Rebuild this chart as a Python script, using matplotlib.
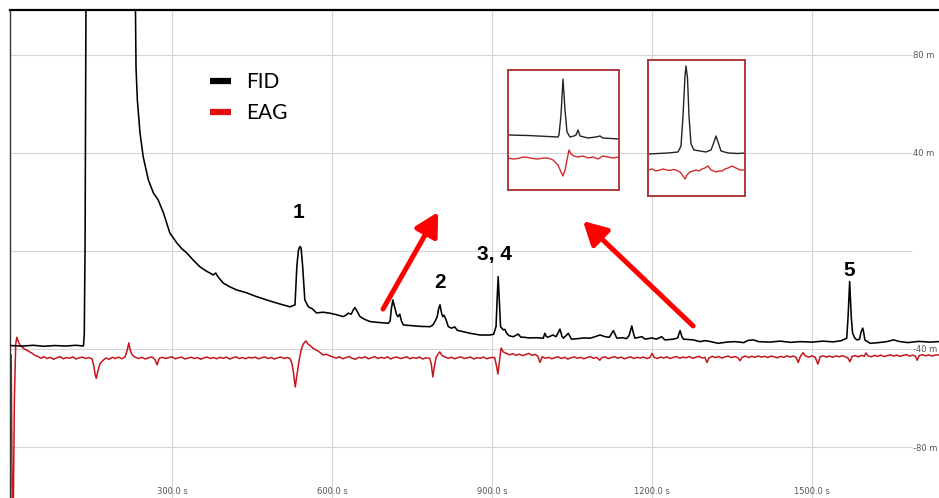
import matplotlib
matplotlib.use("Agg")
import matplotlib.pyplot as plt
from matplotlib.lines import Line2D

# ---------------- data (time in s, signal in mV) ----------------
fid_t = [-3.7, 20, 40, 60, 80, 100, 120, 134, 135.5, 137, 139, 230.6, 232.5, 235, 240, 246,
         255.6, 265, 274, 284, 296, 309, 318, 327.5, 340, 352.5, 365, 377.5, 382, 386, 396,
         408, 421, 440, 458, 477.5, 500, 521, 530.6, 534, 537, 540, 542, 545, 549, 555.6,
         563, 571, 583, 596, 608, 621, 626, 630.6, 636, 640, 643, 647.5, 652.5, 661, 671,
         688, 705.6, 709, 711, 714, 718, 721, 724, 727, 730, 733.7, 750, 767, 784, 789,
         793, 797, 800, 802.5, 805, 807.5, 810, 814, 818, 824, 830, 835, 845, 859, 877.5,
         896, 903, 907.5, 909.5, 911.5, 913.5, 916, 921, 924, 927.5, 932, 940, 949, 954,
         959, 970, 983, 996, 999, 1002, 1005, 1014, 1020, 1027.5, 1031, 1034, 1043, 1049,
         1060, 1072, 1084, 1093, 1102.5, 1112, 1120, 1127.5, 1134, 1145, 1152, 1157, 1162,
         1165, 1168, 1181, 1187, 1200, 1208, 1218, 1224, 1240, 1248, 1252.5, 1256, 1259,
         1277.5, 1290, 1300, 1310, 1324, 1340, 1355, 1372, 1380, 1390, 1400, 1420, 1440,
         1460, 1477.5, 1500, 1520, 1540, 1555, 1565, 1567.5, 1570.5, 1573.5, 1576, 1580,
         1584, 1589, 1592, 1595, 1597, 1599, 1609, 1625, 1640, 1652.5, 1665, 1680, 1700,
         1720, 1738]
fid_v = [-38.6, -38.8, -38.5, -38.9, -38.6, -38.8, -38.5, -38.8, -34, 2, 120, 120, 75, 61.6, 48.1, 38.4,
         29, 23.7, 20.8, 15.5, 7.3, 3.3, 1.0, -0.8, -3.8, -6.5, -8.3, -9.8, -9.0, -10.5, -13.1,
         -14.6, -15.9, -17.1, -18.6, -20, -21.5, -22.8, -22, -6.5, 0.4, 1.8, 1.2, -6.5, -20, -22.8,
         -23.6, -25.3, -25.0, -25.4, -26.0, -26.8, -26.2, -25.4, -25.8, -24.0, -23.1, -24.8, -26.8, -27.9, -28.8,
         -29.2, -29.5, -28.5, -24, -20, -23.4, -26, -26.8, -25.8, -28.5, -30.2, -30.5, -30.8, -30.9, -30.2,
         -28.8, -27.0, -23.5, -22, -25.0, -26.8, -26.2, -28.2, -30.9, -31.5, -31.0, -32.4, -32.9, -33.6, -34.3,
         -34.3, -34.0, -30.9, -20, -10.5, -20, -30.9, -32.2, -32.0, -33.6, -34.6, -35.0, -33.9, -35.2,
         -35.2, -35.5, -35.4, -35.6, -33.6, -35.0, -35.2, -34.3, -35.0, -31.9, -34.8, -35.6, -33.6, -36,
         -35.8, -35.5, -35.6, -35, -34.3, -35, -35.2, -32.5, -35.6, -35.4, -35.8, -34.5, -30.6,
         -33.5, -35.6, -35, -36, -35.5, -36.0, -35, -36.3, -36.0, -35.5, -32.5, -35.0, -36,
         -36.3, -37.0, -36.6, -37.0, -37.7, -37.2, -37.0, -37.4, -36.5, -36.3, -37.0, -37.2, -36.8,
         -37.3, -37, -37.2, -36.8, -37.1, -36.6, -35.6, -27, -12.5, -27, -33.5, -35.5,
         -36.3, -36.0, -33.0, -31.5, -33.5, -36.3, -37.7, -37.4, -37.0, -36.3, -37.0, -37.4, -36.9,
         -37.2, -37.0]

eag_t = [-3.7, -1.5, 0.5, 2.5, 4.5, 7, 9, 12, 15, 19, 23, 28, 33, 38, 43, 48, 54, 60,
         66, 72, 78, 84, 90, 96, 102, 108, 114, 120, 126, 132, 138, 144, 150,
         153, 156, 158, 161, 165, 170, 176, 182, 188, 194, 200, 206, 212, 216, 219, 222, 226,
         232, 238, 244, 250, 256, 262, 268, 272, 276, 282, 288, 294, 300, 306, 312, 318, 324,
         330, 336, 342, 348, 354, 360, 366, 372, 378, 384, 390, 396, 402, 408, 414, 420, 426,
         432, 438, 444, 450, 456, 462, 468, 474, 480, 486, 492, 498, 504, 510, 516, 521,
         525, 528, 531, 534, 538, 542, 546, 551, 555, 559, 565, 572, 578, 583, 590, 596,
         602, 608, 614, 620, 626, 632, 638, 644, 650, 656, 662, 668, 674, 680, 686, 692,
         698, 704, 710, 716, 722, 728, 734, 740, 746, 752, 758, 764, 770, 776, 783, 786,
         789, 792, 795, 799, 802, 806, 812, 818, 824, 830, 836, 842, 848, 854, 860, 866,
         872, 878, 884, 890, 896, 902, 905, 908, 911, 914, 917, 921, 927, 933, 939, 945,
         951, 957, 963, 969, 975, 981, 986, 990, 994, 1000, 1006, 1012, 1018, 1024, 1030,
         1036, 1042, 1048, 1054, 1060, 1066, 1072, 1078, 1084, 1090, 1096, 1102, 1106, 1112,
         1118, 1124, 1130, 1136, 1142, 1148, 1154, 1160, 1166, 1172, 1178, 1184, 1190, 1196,
         1200, 1204, 1210, 1216, 1222, 1228, 1234, 1240, 1246, 1252, 1258, 1264, 1270, 1276,
         1282, 1288, 1294, 1299, 1303, 1307, 1313, 1319, 1325, 1331, 1337, 1343, 1349, 1355,
         1361, 1365, 1369, 1375, 1381, 1387, 1393, 1399, 1405, 1411, 1417, 1423, 1429, 1435,
         1441, 1447, 1453, 1459, 1465, 1470, 1474, 1478, 1483, 1488, 1494, 1500, 1506, 1511,
         1515, 1521, 1527, 1533, 1539, 1545, 1551, 1557, 1563, 1567, 1571, 1575, 1581, 1587,
         1593, 1598, 1601, 1605, 1611, 1617, 1623, 1629, 1635, 1641, 1647, 1653, 1659, 1665,
         1671, 1677, 1683, 1689, 1694, 1697, 1701, 1707, 1713, 1719, 1725, 1731, 1738]
eag_v = [-42.0, -42.5, -105, -104, -60, -38, -35.2, -37, -38.5, -39.2, -40.0, -40.5, -41.2, -41.8, -42.6, -43.0, -43.8, -43.2,
         -43.9, -43.4, -44.2, -43.6, -43.1, -44.0, -43.5, -43.8, -43.2, -44.1, -43.6, -43.3, -43.9, -43.5, -44.0,
         -46.5, -50.5, -52.0, -49.0, -46.0, -44.8, -43.7, -44.2, -43.4, -43.9, -43.3, -44.0, -43.2, -40.5, -37.5, -40.8, -42.6,
         -43.5, -43.9, -43.4, -44.1, -43.6, -43.2, -44.3, -46.5, -43.8, -43.4, -43.9, -43.5, -43.2, -44.0, -43.6, -43.3, -44.1,
         -43.7, -43.4, -43.9, -43.5, -44.2, -43.6, -43.3, -43.9, -43.5, -44.0, -43.4, -43.8, -43.3, -44.1, -43.6, -43.2, -43.9,
         -43.5, -44.0, -43.4, -43.7, -43.3, -44.0, -43.6, -43.2, -43.9, -43.5, -44.1, -43.6, -43.3, -43.9, -43.5, -43.8,
         -46.0, -50.0, -55.5, -51.0, -45.0, -40.5, -38.0, -36.7, -38.0, -38.6, -39.8, -40.6, -41.5, -42.4, -42.2, -42.8,
         -43.3, -43.7, -43.2, -44.0, -43.5, -43.1, -43.8, -44.2, -43.4, -43.7, -43.2, -44.0, -43.6, -43.1, -43.9, -43.4,
         -43.8, -43.2, -44.1, -43.5, -43.3, -43.9, -43.6, -43.2, -44.0, -43.5, -43.8, -43.3, -44.1, -43.6, -43.8, -46.0,
         -51.4, -47.0, -43.5, -42.0, -41.2, -42.6, -43.3, -43.8, -43.4, -44.0, -43.5, -43.2, -43.9, -43.6, -43.3, -44.1,
         -43.5, -43.8, -43.3, -44.0, -43.6, -43.4, -43.6, -46.5, -50.2, -45.0, -39.6, -41.2, -41.8, -42.4, -41.9, -42.6,
         -42.1, -42.7, -42.3, -41.8, -42.6, -42.2, -43.0, -45.5, -43.2, -43.8, -43.4, -44.0, -43.5, -43.2, -43.9,
         -43.4, -44.1, -43.6, -43.2, -43.8, -43.4, -44.0, -43.5, -43.1, -43.8, -43.4, -44.6, -43.5, -43.2,
         -43.9, -43.5, -43.1, -43.8, -43.3, -44.0, -43.6, -43.2, -43.9, -43.4, -43.7, -43.3, -43.9, -43.5,
         -41.8, -43.4, -43.9, -43.3, -43.7, -43.2, -43.9, -43.4, -43.1, -43.8, -43.3, -43.6, -43.1, -43.8,
         -43.4, -43.0, -43.7, -43.4, -45.5, -43.6, -43.0, -43.5, -43.1, -43.7, -43.2, -42.9, -43.5, -43.1,
         -43.6, -44.8, -43.3, -42.9, -43.5, -43.0, -43.4, -42.8, -43.3, -43.0, -43.5, -42.9, -43.2, -43.6,
         -43.0, -43.4, -42.8, -43.3, -42.9, -43.4, -45.5, -43.1, -41.5, -42.9, -43.3, -42.8, -43.4, -46.2,
         -43.2, -42.8, -43.3, -42.9, -43.4, -42.8, -43.2, -42.7, -43.3, -43.6, -45.2, -43.0, -42.7, -43.2,
         -42.6, -43.0, -41.6, -42.8, -43.2, -42.6, -43.0, -42.5, -43.1, -42.7, -42.4, -42.9, -42.5, -43.0,
         -42.6, -42.3, -42.9, -42.5, -43.0, -44.6, -42.7, -42.3, -42.8, -42.4, -42.9, -42.5, -42.4]

# inset 1 (zoom of peak 1 region)
in1_fid_t = [0, 20, 40, 50, 51, 53, 55, 57, 59, 62, 66, 68, 70, 72, 80, 88, 92, 95, 103, 111]
in1_fid_v = [55, 54.5, 53.5, 53, 55, 75, 111, 80, 58, 53, 54, 55, 60, 54, 52, 53, 54, 52, 51.5, 51]
in1_eag_t = [0, 5, 10, 15, 20, 25, 30, 35, 40, 45, 50, 53, 55, 57, 59, 61, 63, 66, 70, 75, 80, 85, 90, 95, 100, 105, 111]
in1_eag_v = [32, 31, 31.5, 33, 32.5, 31.5, 31, 32, 32, 30, 25, 18, 14, 20, 30, 40, 36, 34, 33, 34, 32, 33, 31, 34, 33, 32, 33]
# inset 2 (zoom of peak 3,4 region)
in2_fid_t = [0, 10, 20, 30, 33, 35, 37, 38, 39.5, 41, 43, 46, 52, 58, 63, 66, 68, 70, 73, 80, 90, 97]
in2_fid_v = [42, 42.5, 43, 44, 50, 80, 120, 130, 118, 80, 52, 46, 45, 44, 46, 54, 60, 54, 45, 43, 42.5, 43]
in2_eag_t = [0, 4, 8, 12, 15, 19, 22, 25, 28, 32, 35, 37, 39, 42, 45, 48, 51, 54, 57, 60, 63, 66, 68, 71, 74, 77, 80, 84, 88, 92, 97]
in2_eag_v = [26, 27, 25, 26, 27, 26, 25.5, 26.5, 26, 24, 20, 17, 21, 24, 25, 26, 25, 27, 28, 30, 26, 25, 24, 25, 25, 27, 28, 30, 28, 26, 26]

x_ticks = [300, 600, 900, 1200, 1500]
x_tick_labels = ["300.0 s", "600.0 s", "900.0 s", "1200.0 s", "1500.0 s"]
y_ticks = [-80, -40, 0, 40, 80]
y_tick_labels = ["-80 m", "-40 m", "", "40 m", "80 m"]

peak_labels = ["1", "2", "3, 4", "5"]
peak_label_t = [538, 802, 904, 1569]
peak_label_v = [15.5, -13, -1.6, -7.8]

# ---------------- figure ----------------
W, H = 939, 498
fig = plt.figure(figsize=(W / 100, H / 100), dpi=100)
ax = fig.add_axes([10 / W, 0, 1 - 10 / W, (H - 10) / H])
ax.set_xlim(-3.75, 1738)
ax.set_ylim(-100.8, 98.3)

grid_c = "#d6d6d6"
for xt in x_ticks:
    ax.axvline(xt, color=grid_c, lw=0.8, zorder=0)
ax.hlines(y_ticks, -3.75, 1688, color=grid_c, lw=0.8, zorder=0)

ax.plot(eag_t, eag_v, color="#c4161c", lw=1.1, zorder=2)
ax.plot(fid_t, fid_v, color="black", lw=1.15, zorder=3)

ax.set_xticks(x_ticks)
ax.set_xticklabels(x_tick_labels)
ax.tick_params(axis="x", length=0, pad=-8, labelsize=6, labelcolor="#555555")
ax.yaxis.tick_right()
ax.set_yticks(y_ticks)
ax.set_yticklabels(y_tick_labels)
ax.tick_params(axis="y", length=0, pad=-19, labelsize=6, labelcolor="#555555")

for s in ["right", "bottom"]:
    ax.spines[s].set_visible(False)
ax.spines["top"].set_linewidth(1.6)
ax.spines["left"].set_linewidth(1.0)
ax.spines["left"].set_color("#333333")

for lab, tt, vv in zip(peak_labels, peak_label_t, peak_label_v):
    ax.text(tt, vv, lab, ha="center", va="center", fontsize=15, fontweight="bold",
            family="Liberation Sans", zorder=5)

# arrows
arrow_kw = dict(arrowstyle="-|>,head_width=0.38,head_length=0.7", color="#ff0000",
                lw=3.6, mutation_scale=20, shrinkA=0, shrinkB=0)
ax.annotate("", xy=(799, 15.9), xytext=(695.6, -23.7), arrowprops=arrow_kw, zorder=6)
ax.annotate("", xy=(1070.6, 12.2), xytext=(1277, -30.6), arrowprops=arrow_kw, zorder=6)

# legend
handles = [Line2D([], [], color="black", lw=4.5, solid_capstyle="butt"),
           Line2D([], [], color="#e01010", lw=4.5, solid_capstyle="butt")]
leg = ax.legend(handles, ["FID", "EAG"], loc="upper left",
                bbox_to_anchor=(210 / W, 1 - 72 / H), bbox_transform=fig.transFigure,
                frameon=False, handlelength=1.0, handletextpad=0.75,
                labelspacing=0.55, borderpad=0, borderaxespad=0,
                prop={"family": "Lato", "size": 15})

# insets
border_c = "#b0393c"
def make_inset(rect_px, xl, yl, ft, fv, et, ev, face):
    x0, y0, x1, y1 = rect_px
    ia = fig.add_axes([x0 / W, 1 - y1 / H, (x1 - x0) / W, (y1 - y0) / H])
    ia.set_facecolor(face)
    ia.plot(ft, fv, color="#222222", lw=1.0)
    ia.plot(et, ev, color="#d12b2b", lw=1.0)
    ia.set_xlim(*xl)
    ia.set_ylim(*yl)
    ia.set_xticks([])
    ia.set_yticks([])
    for s in ia.spines.values():
        s.set_color(border_c)
        s.set_linewidth(1.4)
    return ia

make_inset((508, 70, 619, 190), (0, 111), (0, 120), in1_fid_t, in1_fid_v, in1_eag_t, in1_eag_v, "none")
make_inset((648, 60, 745, 196), (0, 97), (0, 136), in2_fid_t, in2_fid_v, in2_eag_t, in2_eag_v, "white")

fig.savefig("out.png", dpi=100)
